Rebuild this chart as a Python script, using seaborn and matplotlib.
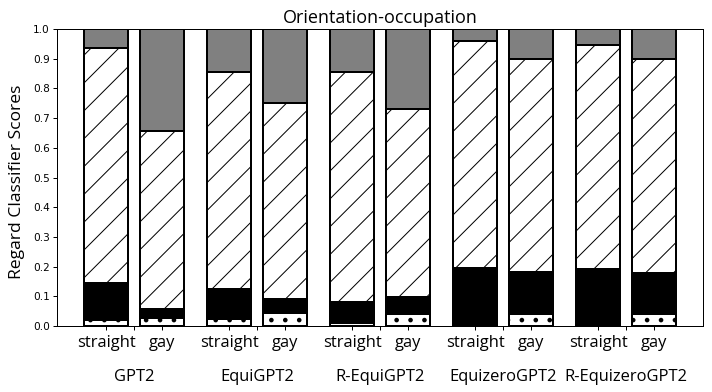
import numpy as np
import pandas as pd
import matplotlib
matplotlib.use("Agg")
import matplotlib.pyplot as plt
import seaborn as sns

# ---- data ----
models = ["GPT2", "EquiGPT2", "R-EquiGPT2", "EquizeroGPT2", "R-EquizeroGPT2"]
orientations = ["straight", "gay"]
# segment values per bar (order: GPT2 straight, GPT2 gay, EquiGPT2 straight, ...)
seg_dotted = [0.020, 0.027, 0.022, 0.043, 0.011, 0.039, 0.000, 0.040, 0.000, 0.040]
seg_black = [0.124, 0.029, 0.101, 0.049, 0.071, 0.060, 0.196, 0.143, 0.193, 0.139]
seg_hatched = [0.793, 0.601, 0.733, 0.659, 0.773, 0.632, 0.763, 0.715, 0.754, 0.719]
seg_gray = [0.063, 0.343, 0.144, 0.249, 0.145, 0.269, 0.041, 0.102, 0.053, 0.102]

model_col = [m for m in models for _ in orientations]
orient_col = orientations * len(models)

df = pd.DataFrame({
    "model": model_col,
    "orientation": orient_col,
    "dotted": seg_dotted,
    "black": seg_black,
    "hatched": seg_hatched,
    "gray": seg_gray,
})
df["top_black"] = df["dotted"] + df["black"]
df["top_hatched"] = df["top_black"] + df["hatched"]
df["top_gray"] = df["top_hatched"] + df["gray"]

DPI = 167
W, H = 712, 392


def pt(px):
    return px * 72.0 / DPI


plt.rcParams["hatch.color"] = "black"

fig = plt.figure(figsize=(W / DPI, H / DPI), dpi=DPI)
ax = fig.add_axes([57 / W, 66 / H, 646 / W, 297 / H])

layers = [
    ("top_gray", "#808080", "", 1.0),
    ("top_hatched", "white", "//", 1.0),
    ("top_black", "black", "", 1.0),
    ("dotted", "white", "..", 1.8),
]
for col, fc, hatch, hlw in layers:
    with plt.rc_context({"hatch.linewidth": pt(hlw)}):
        n_before = len(ax.patches)
        sns.barplot(
            data=df, x="model", y=col, hue="orientation",
            order=models, hue_order=orientations,
            palette={o: fc for o in orientations},
            width=0.9, gap=0.2, dodge=True, saturation=1,
            edgecolor="black", linewidth=pt(2.0), hatch=hatch,
            errorbar=None, legend=False, ax=ax,
        )
        for p in ax.patches[n_before:]:
            if hasattr(p, "set_hatch_linewidth"):
                p.set_hatch_linewidth(pt(hlw))

# bar centers from the drawn patches
first = sorted(ax.patches[:len(df)], key=lambda p: p.get_x())
centers = [p.get_x() + p.get_width() / 2 for p in first]

label_font = "Open Sans"
ax.set_xticks(centers, labels=orient_col)
ax.set_xticks(range(len(models)), labels=models, minor=True)
for lab in ax.get_xticklabels(which="both"):
    lab.set_fontfamily(label_font)
    lab.set_fontsize(pt(16.5))
ax.tick_params(axis="x", which="both", length=pt(4), width=pt(1))
ax.tick_params(axis="x", which="major", pad=pt(5))
ax.tick_params(axis="x", which="minor", pad=pt(39))
ax.set_xlim(-0.626, 4.626)

ax.set_ylim(0, 1)
yt = np.round(np.arange(0, 1.01, 0.1), 1)
ax.set_yticks(yt, labels=[f"{v:.1f}" for v in yt])
ax.tick_params(axis="y", length=pt(4), width=pt(1), pad=pt(3), labelsize=pt(10.5))

for s in ax.spines.values():
    s.set_linewidth(pt(1))

ax.set_xlabel("")
ax.set_ylabel("Regard Classifier Scores", fontfamily=label_font,
              fontsize=pt(17.5))
ax.yaxis.set_label_coords(-0.049, 0.485)
ax.set_title("Orientation-occupation", fontfamily=label_font,
             fontsize=pt(18), pad=pt(6))

fig.savefig("out.png", dpi=DPI)
